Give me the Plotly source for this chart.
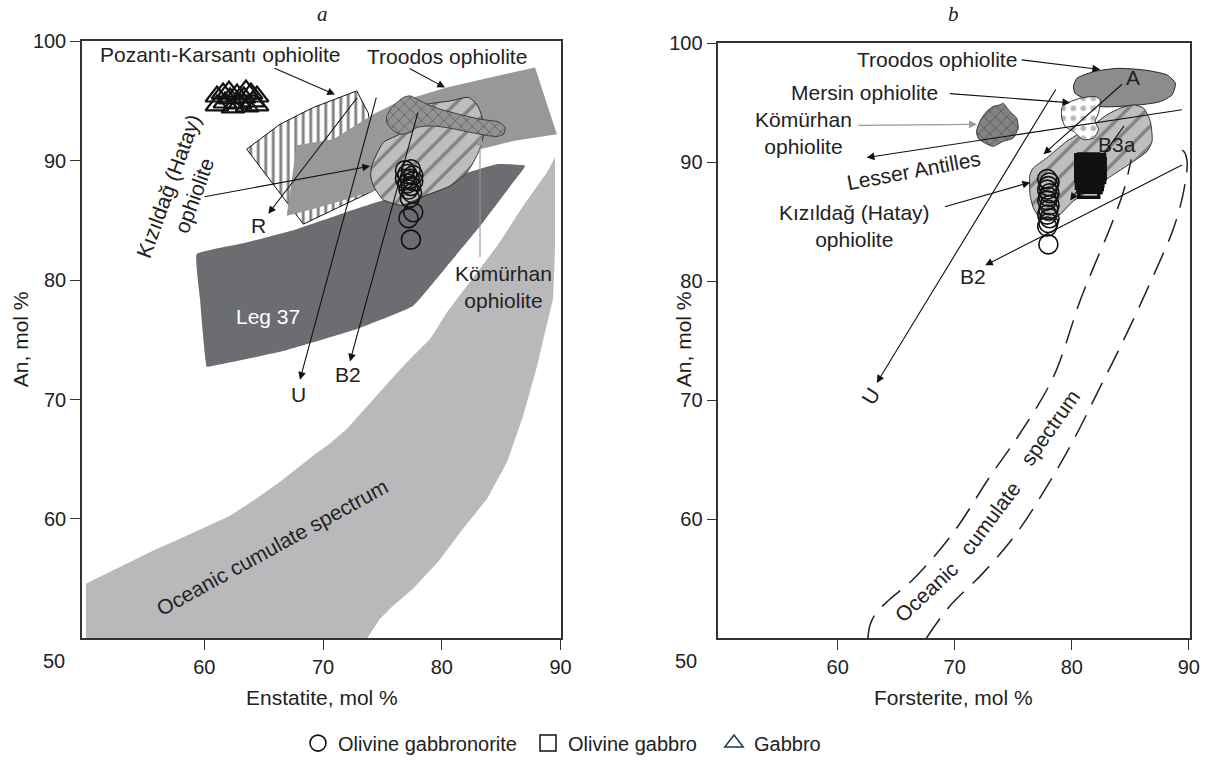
import plotly.graph_objects as go

# ---------------- panel a : Enstatite vs An ----------------
# Oceanic cumulate spectrum band
ocean_x = [50.03, 50.03, 73.71, 74.8, 75.9, 77.58, 79.69, 81.79, 83.82, 85.5, 86.85, 88.03, 88.7, 89.37,
           89.54, 89.54, 88.87, 86.85, 84.66, 82.13, 80.45, 79.02, 77.58, 76.2, 74.8, 73.4, 72.02, 70.6,
           69.15, 66.38, 64.3, 62.17, 60.0, 57.95, 55.8, 53.74, 51.9]
ocean_y = [54.58, 50.0, 50.0, 51.65, 52.74, 54.16, 56.42, 59.18, 61.69, 64.78, 68.63, 72.82, 75.67, 78.43,
           82.61, 90.3, 89.05, 86.21, 82.86, 79.51, 77.34, 75.08, 73.66, 72.2, 70.65, 69.05, 67.55, 66.35,
           65.29, 63.11, 61.65, 60.27, 59.25, 58.34, 57.4, 56.42, 55.5]

# Leg 37 field
leg37_x = [59.36, 63.57, 67.78, 72.0, 76.21, 80.42, 84.63, 87.02, 85.76, 83.23, 80.45, 77.58, 72.86,
           66.38, 60.73, 60.23, 59.64]
leg37_y = [82.19, 83.17, 84.28, 85.71, 87.07, 88.47, 89.72, 89.58, 87.88, 84.54, 81.19, 77.84, 75.92,
           74.0, 72.83, 72.75, 78.43]

# Troodos ophiolite band
troodos_a_x = [66.94, 67.78, 70.87, 74.24, 76.21, 80.42, 84.63, 87.86, 89.69, 86.03, 83.23, 80.42,
               77.61, 74.80, 72.0, 69.18]
troodos_a_y = [85.40, 91.31, 91.82, 93.91, 94.89, 96.14, 97.11, 97.82, 92.23, 91.67, 90.98, 89.87,
               88.74, 87.63, 86.79, 85.96]

# Pozanti-Karsanti ophiolite field
pozanti_x = [63.57, 66.38, 69.18, 72.84, 73.82, 74.52, 68.34]
pozanti_y = [90.98, 93.07, 94.47, 95.86, 93.99, 87.63, 84.70]

# Kizildag (Hatay) ophiolite field
kizil_a_x = [74.10, 75.08, 76.63, 77.05, 78.74, 80.70, 82.24, 82.95, 83.37, 83.50, 83.08, 82.11,
             80.70, 78.45, 76.63, 75.08, 74.24, 74.02]
kizil_a_y = [89.58, 91.54, 92.38, 94.18, 94.74, 95.02, 95.31, 94.74, 93.77, 92.09, 90.70, 89.03,
             87.91, 87.02, 86.29, 86.74, 87.91, 88.74]

# Komurhan ophiolite field
komur_a_x = [75.37, 75.79, 76.76, 77.33, 78.45, 79.85, 83.23, 84.77, 85.33, 85.19, 84.63, 83.23,
             80.42, 79.02, 77.89, 77.33, 76.49, 75.79, 75.37]
komur_a_y = [93.77, 94.47, 95.31, 95.44, 94.89, 94.33, 93.49, 93.26, 92.79, 92.23, 92.04, 92.23,
             92.79, 92.93, 92.79, 92.38, 92.23, 92.65, 93.21]

# Samples, panel a
gabbronorite_a_x = [76.9, 77.4, 77.1, 77.6, 76.9, 77.3, 77.6, 77.1, 77.4, 77.2, 77.5, 77.3, 77.6, 77.2, 77.4]
gabbronorite_a_y = [89.2, 89.3, 88.9, 88.8, 88.5, 88.5, 88.3, 88.1, 87.9, 87.6, 87.3, 86.9, 85.7, 85.2, 83.4]
gabbro_x = [61.07, 61.07, 61.58, 61.74, 62.17, 62.42, 62.75, 63.01, 63.34, 63.60, 63.93, 64.10,
            64.44, 64.44, 62.08, 63.51]
gabbro_y = [95.39, 94.64, 95.64, 94.89, 95.23, 94.48, 95.56, 94.81, 95.31, 94.56, 95.64, 94.98,
            95.39, 94.64, 95.81, 95.89]

# ---------------- panel b : Forsterite vs An ----------------
troodos_b_x = [80.14, 80.43, 81.85, 83.86, 86.14, 88.14, 88.85, 88.57, 87.57, 85.85, 82.42, 81.0, 80.28]
troodos_b_y = [96.36, 97.05, 97.61, 97.89, 97.76, 97.34, 96.64, 95.67, 95.10, 94.83, 94.69, 95.38, 95.80]

kizil_b_x = [76.43, 76.71, 77.86, 79.57, 81.85, 83.0, 84.14, 85.28, 86.14, 86.71, 86.86, 86.43, 85.28,
             83.56, 81.85, 80.14, 79.0, 78.14, 77.28, 76.71, 76.43]
kizil_b_y = [88.97, 89.52, 90.36, 91.76, 93.15, 93.99, 94.54, 94.83, 94.54, 93.43, 91.76, 90.92, 90.08,
             88.97, 87.85, 86.74, 85.62, 85.06, 85.34, 86.18, 87.30]

mersin_x = [79.14, 79.57, 80.71, 82.0, 82.42, 82.28, 82.0, 82.28, 81.85, 80.99, 80.14, 79.43, 79.14]
mersin_y = [94.54, 94.96, 95.38, 95.52, 95.25, 94.13, 93.43, 92.74, 92.03, 91.90, 92.59, 93.01, 93.71]

komur_b_x = [71.86, 72.14, 72.72, 73.28, 73.86, 74.14, 74.71, 75.29, 75.42, 75.0, 74.14, 73.28, 72.57, 72.0]
komur_b_y = [92.59, 93.43, 94.27, 94.69, 94.83, 94.96, 94.27, 93.71, 92.87, 92.03, 91.76, 91.34, 91.62, 92.03]

# Oceanic cumulate spectrum limits (dashed)
ocs_low_x = [62.57, 62.78, 63.29, 64.43, 66.43, 69.85, 73.0, 75.57, 78.42, 80.71, 81.85, 83.28, 84.42, 85.08]
ocs_low_y = [50.0, 51.17, 52.15, 53.26, 54.94, 58.84, 63.58, 67.21, 71.95, 78.37, 81.15, 84.50, 87.57, 90.25]
ocs_high_x = [67.57, 69.57, 72.43, 75.29, 77.86, 80.14, 82.42, 84.4, 87.28, 88.71, 89.56, 89.85, 89.56, 88.57]
ocs_high_y = [50.0, 52.70, 55.50, 58.84, 62.74, 66.65, 71.11, 75.0, 81.15, 84.50, 87.57, 90.08, 90.92, 91.34]

# Samples, panel b
gabbronorite_b_x = [77.9, 78.1, 78.0, 77.9, 78.1, 78.0, 77.9, 78.1, 78.0, 77.9, 78.1, 78.0, 77.9, 78.0]
gabbronorite_b_y = [88.6, 88.3, 88.0, 87.7, 87.4, 87.1, 86.8, 86.4, 86.0, 85.6, 85.3, 84.9, 84.6, 83.1]
ol_gabbro_x = [81.20, 81.45, 81.70, 81.95, 81.25, 81.50, 81.75, 82.00, 81.20, 81.45, 81.70, 81.95,
               81.30, 81.55, 81.80, 81.25, 81.50, 81.75, 81.40, 81.65, 81.45]
ol_gabbro_y = [89.80, 89.85, 89.75, 89.80, 89.55, 89.50, 89.55, 89.45, 89.25, 89.20, 89.30, 89.15,
               88.95, 88.90, 88.85, 88.65, 88.60, 88.55, 88.35, 88.30, 87.90]

x_ticks = [60, 70, 80, 90]
y_ticks = [60, 70, 80, 90, 100]

FONT = "Liberation Sans, Arial, sans-serif"
INK = "#222222"
W, H = 1206, 763

fig = go.Figure()


def field(xs, ys, ax, fill, line_color=None, line_width=1.0, pattern=None, smooth=0.0):
    fig.add_trace(go.Scatter(
        x=list(xs) + [xs[0]], y=list(ys) + [ys[0]],
        xaxis=ax[0], yaxis=ax[1], mode="lines", fill="toself",
        fillcolor=fill, fillpattern=pattern,
        line=dict(color=line_color or fill, width=line_width if line_color else 0,
                  shape="spline" if smooth else "linear", smoothing=smooth or None),
        hoverinfo="skip", showlegend=False))


A = ("x", "y")
B = ("x2", "y2")

# panel a fields (back to front)
field(ocean_x, ocean_y, A, "#b9b9bb")
field(leg37_x, leg37_y, A, "#6c6d70", smooth=0.3)
field(pozanti_x, pozanti_y, A, "white", "#111", 1.0,
      dict(shape="|", fgcolor="#000", bgcolor="white", size=7.5, solidity=0.38))
field(troodos_a_x, troodos_a_y, A, "#98989a")
field(kizil_a_x, kizil_a_y, A, "#bebebe", "#222", 0.9,
      dict(shape="/", fgcolor="#474747", bgcolor="#bebebe", size=14, solidity=0.25), smooth=0.6)
field(komur_a_x, komur_a_y, A, "#909092", "#333", 0.9,
      dict(shape="x", fgcolor="#222", bgcolor="#939395", size=8, solidity=0.18), smooth=0.6)

# panel b fields
field(troodos_b_x, troodos_b_y, B, "#8c8c8e", "#222", 1.0, smooth=0.6)
field(kizil_b_x, kizil_b_y, B, "#bebebe", "#222", 0.9,
      dict(shape="/", fgcolor="#474747", bgcolor="#bebebe", size=14, solidity=0.25), smooth=0.6)
field(mersin_x, mersin_y, B, "white", "#222", 0.9,
      dict(shape=".", fgcolor="#6e6e6e", bgcolor="white", size=10, solidity=0.25), smooth=0.6)
field(komur_b_x, komur_b_y, B, "#7f7f81", "#333", 0.9,
      dict(shape="x", fgcolor="#222", bgcolor="#838385", size=8, solidity=0.18), smooth=0.6)

for xs, ys in [(ocs_low_x, ocs_low_y), (ocs_high_x, ocs_high_y)]:
    fig.add_trace(go.Scatter(x=xs, y=ys, xaxis="x2", yaxis="y2", mode="lines",
                             line=dict(color=INK, width=1.5, dash="24px,12px", shape="spline"),
                             hoverinfo="skip", showlegend=False))

# sample points
fig.add_trace(go.Scatter(x=gabbronorite_a_x, y=gabbronorite_a_y, xaxis="x", yaxis="y", mode="markers",
                         marker=dict(symbol="circle-open", size=19, color="#111", line=dict(width=1.6)),
                         name="Olivine gabbronorite", legend="legend", showlegend=True, hoverinfo="skip"))
fig.add_trace(go.Scatter(x=gabbro_x, y=gabbro_y, xaxis="x", yaxis="y", mode="markers",
                         marker=dict(symbol="triangle-up-open", size=20, color="#111", line=dict(width=2.2)),
                         showlegend=False, hoverinfo="skip"))
fig.add_trace(go.Scatter(x=gabbronorite_b_x, y=gabbronorite_b_y, xaxis="x2", yaxis="y2", mode="markers",
                         marker=dict(symbol="circle-open", size=19, color="#111", line=dict(width=1.6)),
                         showlegend=False, hoverinfo="skip"))
fig.add_trace(go.Scatter(x=ol_gabbro_x, y=ol_gabbro_y, xaxis="x2", yaxis="y2", mode="markers",
                         marker=dict(symbol="square-open", size=20, color="#111", line=dict(width=3.5)),
                         showlegend=False, hoverinfo="skip"))
# legend entries for the olivine gabbro and gabbro symbols
fig.add_trace(go.Scatter(x=[None], y=[None], xaxis="x2", yaxis="y2", mode="markers",
                         marker=dict(symbol="square-open", size=16, color="#111", line=dict(width=1.5)),
                         name="Olivine gabbro", legend="legend2", showlegend=True, hoverinfo="skip"))
fig.add_trace(go.Scatter(x=[None], y=[None], xaxis="x", yaxis="y", mode="markers",
                         marker=dict(symbol="triangle-up-open", size=16, color="#1e3a57", line=dict(width=1.5)),
                         name="Gabbro", legend="legend3", showlegend=True, hoverinfo="skip"))

ann = []


def arrow(ax, tail, head, color="#111"):
    ann.append(dict(x=head[0], y=head[1], ax=tail[0], ay=tail[1],
                    xref=ax[0], yref=ax[1], axref=ax[0], ayref=ax[1],
                    text="", showarrow=True, arrowhead=2, arrowsize=1.4, arrowwidth=1.1,
                    arrowcolor=color, standoff=0, startstandoff=0))


def label(ax, x, y, text, angle=0, color=INK, size=21):
    ann.append(dict(x=x, y=y, xref=ax[0], yref=ax[1], text=text, showarrow=False,
                    textangle=angle, xanchor="center", yanchor="middle",
                    font=dict(family=FONT, size=size, color=color)))


# panel a labels and arrows
label(A, 61.32, 98.89, "Pozantı-Karsantı ophiolite")
arrow(A, (65.79, 97.81), (71.01, 95.56))
label(A, 80.44, 98.73, "Troodos ophiolite")
arrow(A, (77.16, 97.81), (80.27, 96.14))
label(A, 58.04, 87.48, "Kızıldağ (Hatay)<br>ophiolite", angle=-70)
arrow(A, (59.89, 86.97), (73.96, 89.56))
arrow(A, (72.95, 95.39), (65.39, 85.56))
label(A, 64.55, 84.58, "R")
arrow(A, (74.52, 95.42), (68.06, 71.67))
label(A, 67.92, 70.42, "U")
arrow(A, (78.02, 94.17), (72.27, 73.2))
label(A, 72.13, 72.08, "B2")
arrow(A, (83.22, 81.81), (83.22, 91.98), color="#9a9a9c")
label(A, 85.16, 79.47, "Kömürhan<br>ophiolite")
label(A, 65.39, 76.95, "Leg 37", color="white")
label(A, 65.68, 57.64, "Oceanic cumulate spectrum", angle=-28.8)

# panel b labels and arrows
label(B, 68.49, 98.62, "Troodos ophiolite")
arrow(B, (75.59, 98.62), (82.42, 97.79))
label(B, 85.27, 97.09, "A")
arrow(B, (84.42, 96.67), (77.58, 90.68))
label(B, 62.25, 95.84, "Mersin ophiolite")
arrow(B, (69.46, 95.78), (79.86, 95.0))
label(B, 57.04, 92.44, "Kömürhan<br>ophiolite")
arrow(B, (61.63, 93.1), (71.89, 93.19), color="#9a9a9c")
label(B, 66.44, 89.34, "Lesser Antilles", angle=-10.6)
arrow(B, (89.54, 94.44), (62.48, 90.4))
label(B, 83.85, 91.52, "B3a")
arrow(B, (84.56, 93.19), (79.86, 86.78))
arrow(B, (89.54, 89.84), (72.6, 81.34))
label(B, 71.6, 80.37, "B2")
label(B, 61.4, 84.66, "Kızıldağ (Hatay)<br>ophiolite")
arrow(B, (69.03, 86.23), (76.44, 88.31))
arrow(B, (78.72, 96.26), (63.34, 71.46))
label(B, 62.77, 70.34, "U", angle=-58)
label(B, 67.61, 53.9, "Oceanic", angle=-43)
label(B, 73.02, 60.03, "cumulate", angle=-53)
label(B, 78.15, 67.7, "spectrum", angle=-55)


def paper_text(px, py, text, angle=0, italic=False, size=21):
    ann.append(dict(x=px / W, y=1 - py / H, xref="paper", yref="paper", text=text,
                    showarrow=False, textangle=angle, xanchor="center", yanchor="middle",
                    font=dict(family="Liberation Serif, serif" if italic else FONT, size=size, color=INK)))


paper_text(322, 14, "<i>a</i>", italic=True)
paper_text(953, 14, "<i>b</i>", italic=True)
paper_text(322, 701, "Enstatite, mol %")
paper_text(953, 701, "Forsterite, mol %")
paper_text(20, 341, "An, mol %", angle=-90)
paper_text(683, 341, "An, mol %", angle=-90)
paper_text(54, 664, "50", size=20)
paper_text(686, 664, "50", size=20)

axis_style = dict(ticks="outside", ticklen=10, tickwidth=1.2, tickcolor="#333",
                  showline=True, linecolor="#333", linewidth=1.5, mirror=True,
                  showgrid=False, zeroline=False, automargin=False,
                  tickfont=dict(family=FONT, size=20, color=INK))

legend_style = dict(orientation="h", yanchor="middle", xanchor="left", y=1 - 747 / H,
                    bgcolor="rgba(0,0,0,0)", font=dict(family=FONT, size=20, color=INK))

fig.update_layout(
    width=W, height=H, margin=dict(l=0, r=0, t=0, b=0, pad=0), autosize=False,
    paper_bgcolor="white", plot_bgcolor="white",
    font=dict(family=FONT, size=20, color=INK),
    xaxis=dict(domain=[82 / W, 560.5 / W], range=[49.7, 90], anchor="y", tickvals=x_ticks, **axis_style),
    yaxis=dict(domain=[1 - 641.7 / H, 1 - 41.7 / H], range=[50, 100], anchor="x", tickvals=y_ticks, **axis_style),
    xaxis2=dict(domain=[718.3 / W, 1190 / W], range=[49.8, 90.1], anchor="y2", tickvals=x_ticks, **axis_style),
    yaxis2=dict(domain=[1 - 641.7 / H, 1 - 43.5 / H], range=[50, 100], anchor="x2", tickvals=y_ticks, **axis_style),
    legend=dict(x=298 / W, **legend_style),
    legend2=dict(x=528 / W, **legend_style),
    legend3=dict(x=714 / W, **legend_style),
    annotations=ann,
    hovermode=False,
)

fig.write_html("out.html")
